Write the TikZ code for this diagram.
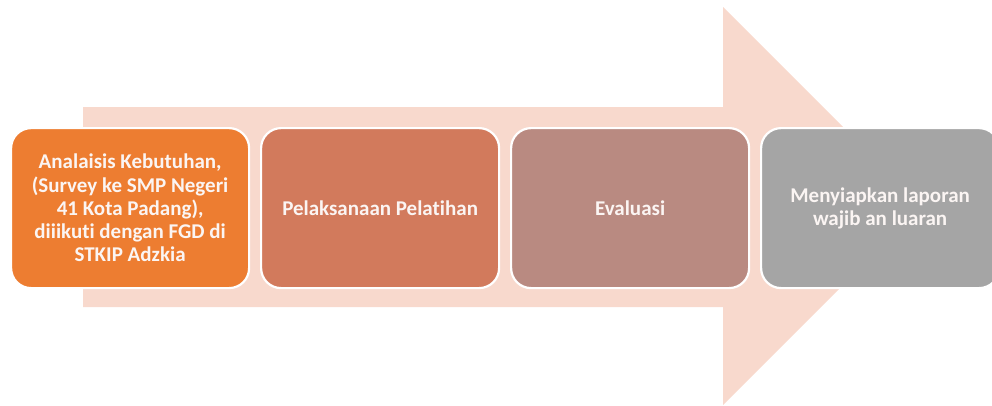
\documentclass[tikz,border=0pt]{standalone}
\usepackage{fontspec}
\setmainfont[Ligatures=NoCommon]{Carlito}
\definecolor{arrowc}{HTML}{F8D9CD}
\definecolor{c1}{HTML}{ED7D31}
\definecolor{c2}{HTML}{D27A5C}
\definecolor{c3}{HTML}{B98A81}
\definecolor{c4}{HTML}{A5A5A5}
\definecolor{txt}{HTML}{FBF5F3}
\tikzset{
  stepbox/.style={draw=white, line width=2.2pt, rounded corners=20pt, minimum width=238pt, minimum height=160pt,
    inner sep=0pt, align=center, text=txt, font=\fontsize{21}{23.3}\selectfont\bfseries, anchor=north west}
}
\begin{document}
\begin{tikzpicture}[x=1pt,y=-1pt]
\useasboundingbox (0,0) rectangle (992,405);
\fill[arrowc] (83,107) -- (723,107) -- (723,7) -- (922,206) -- (723,405) -- (723,307) -- (83,307) -- cycle;
\node[stepbox, fill=c1] (b1) at (10,127) {Analaisis Kebutuhan,\\(Survey ke SMP Negeri\\41 Kota Padang),\\diiikuti dengan FGD di\\STKIP Adzkia};
\node[stepbox, fill=c2] (b2) at (260,127) {Pelaksanaan Pelatihan};
\node[stepbox, fill=c3] (b3) at (510,127) {Evaluasi};
\node[stepbox, fill=c4] (b4) at (760,127) {Menyiapkan laporan\\wajib an luaran};
\end{tikzpicture}
\end{document}
